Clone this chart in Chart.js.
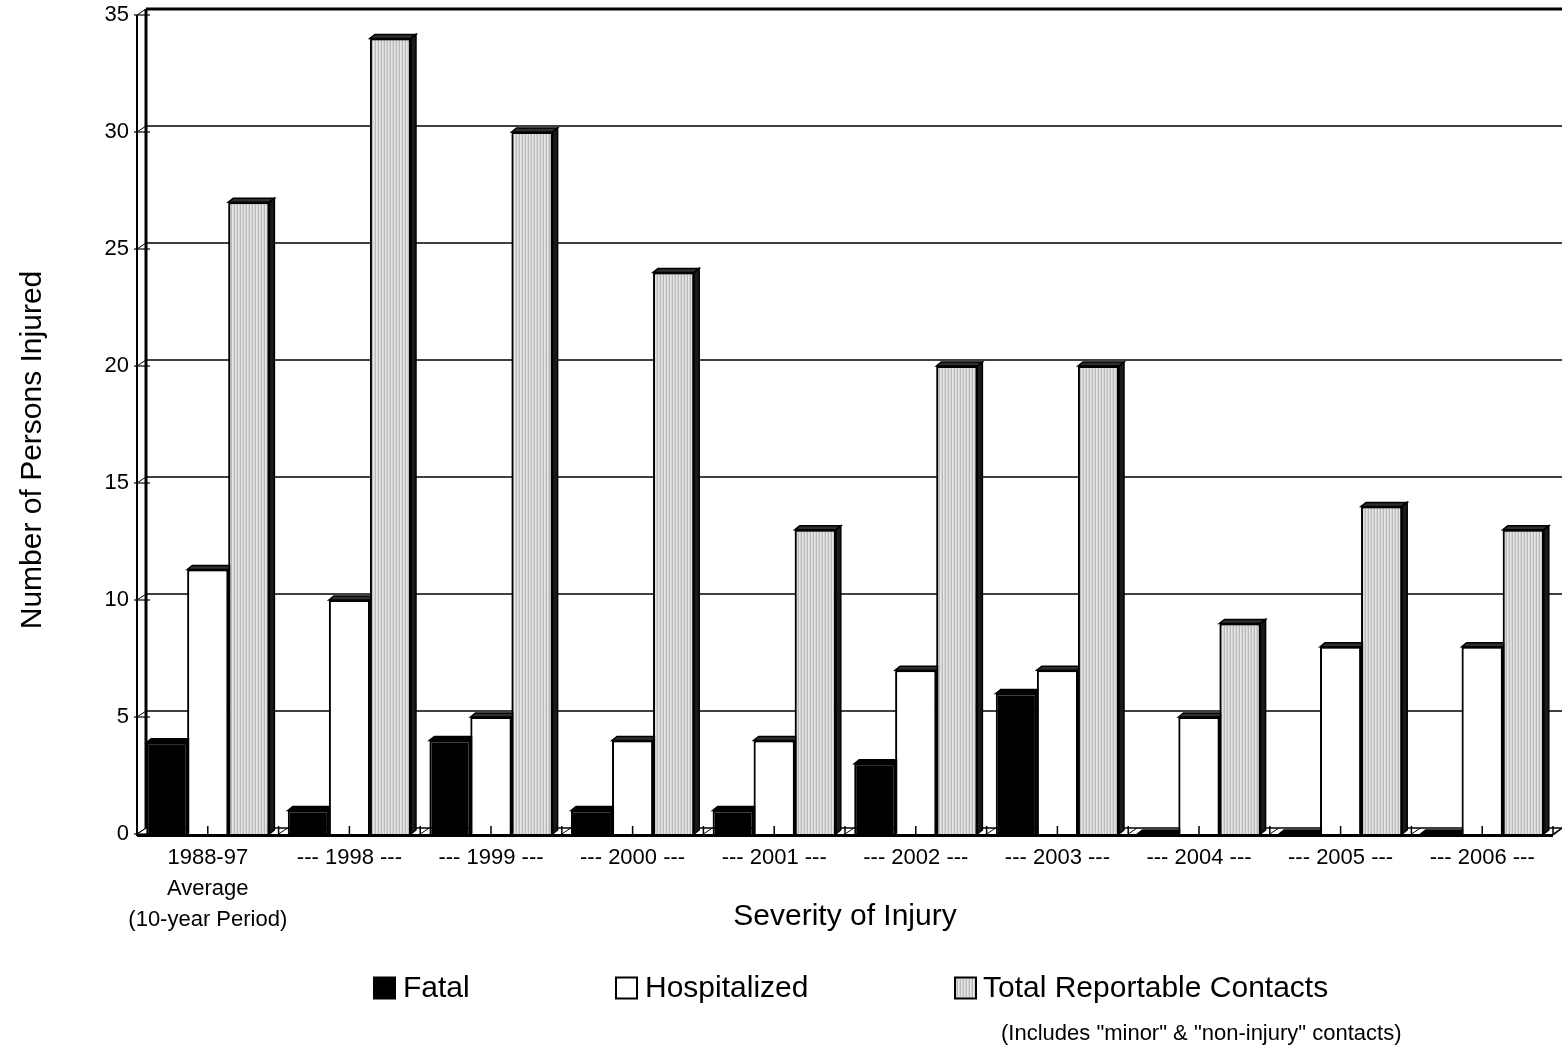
<!DOCTYPE html>
<html>
<head>
<meta charset="utf-8">
<title>Number of Persons Injured by Severity of Injury</title>
<script src="https://cdn.jsdelivr.net/npm/chart.js@4.4.1/dist/chart.umd.min.js"></script>
<style>
  html, body { margin: 0; padding: 0; background: #fff; }
  #wrap { width: 1562px; height: 1049px; position: relative; }
</style>
</head>
<body>
<div id="wrap"><canvas id="chart" width="1562" height="1049"></canvas></div>
<script>
// ---- data ----
const categories = [
  ["1988-97", "Average", "(10-year Period)"],
  "--- 1998 ---", "--- 1999 ---", "--- 2000 ---", "--- 2001 ---",
  "--- 2002 ---", "--- 2003 ---", "--- 2004 ---", "--- 2005 ---", "--- 2006 ---"
];
const fatal        = [3.9, 1, 4, 1, 1, 3, 6, 0, 0, 0];
const hospitalized = [11.3, 10, 5, 4, 4, 7, 7, 5, 8, 8];
const totalContacts = [27, 34, 30, 24, 13, 20, 20, 9, 14, 13];
const yTicks = [0, 5, 10, 15, 20, 25, 30, 35];
const seriesNames = ["Fatal", "Hospitalized", "Total Reportable Contacts"];
const footnote = '(Includes "minor" & "non-injury" contacts)';
const yTitle = "Number of Persons Injured";
const xTitle = "Severity of Injury";

// ---- styling ----
const FONT = "'Liberation Sans', Arial, Helvetica, sans-serif";
const WALL_DX = 9, WALL_DY = 6;   // depth of the back wall
const BAR_DX = 5, BAR_DY = 4;     // depth of each bar

function stripePattern() {
  const c = document.createElement('canvas');
  c.width = 3; c.height = 4;
  const g = c.getContext('2d');
  ['#b9b9b9', '#e6e6e6', '#d5d5d5'].forEach((col, i) => {
    g.fillStyle = col; g.fillRect(i, 0, 1, 4);
  });
  return g.createPattern(c, 'repeat');
}
const stripes = stripePattern();
const fills = ['#000000', '#ffffff', stripes];
const topFills = ['#000000', '#2e2e2e', '#2e2e2e'];
const sideFills = ['#000000', '#1a1a1a', '#1a1a1a'];

function barFaces(ctx, el, di) {
  const p = el.getProps(['x', 'y', 'base', 'width'], true);
  const x0 = p.x - p.width / 2, x1 = p.x + p.width / 2;
  const y = Math.min(p.y, p.base), base = Math.max(p.y, p.base);
  ctx.save();
  ctx.strokeStyle = '#000';
  ctx.lineWidth = 1.5;
  ctx.lineJoin = 'miter';
  // top face
  ctx.beginPath();
  ctx.moveTo(x0, y);
  ctx.lineTo(x0 + BAR_DX, y - BAR_DY);
  ctx.lineTo(x1 + BAR_DX, y - BAR_DY);
  ctx.lineTo(x1, y);
  ctx.closePath();
  ctx.fillStyle = topFills[di];
  ctx.fill(); ctx.stroke();
  // right side face
  if (base > y) {
    ctx.beginPath();
    ctx.moveTo(x1, y);
    ctx.lineTo(x1 + BAR_DX, y - BAR_DY);
    ctx.lineTo(x1 + BAR_DX, base - BAR_DY);
    ctx.lineTo(x1, base);
    ctx.closePath();
    ctx.fillStyle = sideFills[di];
    ctx.fill(); ctx.stroke();
  }
  ctx.restore();
}

function line(ctx, x1, y1, x2, y2, w) {
  ctx.beginPath();
  ctx.lineWidth = w;
  ctx.moveTo(x1, y1);
  ctx.lineTo(x2, y2);
  ctx.stroke();
}

const wallPlugin = {
  id: 'wall',
  beforeDatasetsDraw(chart) {
    const ctx = chart.ctx, a = chart.chartArea, ys = chart.scales.y;
    const W = chart.width;
    ctx.save();
    ctx.strokeStyle = '#000';
    // gridlines on the back wall
    yTicks.forEach(v => {
      const y = ys.getPixelForValue(v) - WALL_DY;
      line(ctx, a.left + WALL_DX, y, W, y, v === yTicks[yTicks.length - 1] ? 3 : 1.4);
    });
    // left wall: front and back edges
    const yTop = ys.getPixelForValue(yTicks[yTicks.length - 1]);
    const yBot = ys.getPixelForValue(0);
    line(ctx, a.left, yTop, a.left, yBot + 2, 2);
    line(ctx, a.left + WALL_DX, yTop - WALL_DY, a.left + WALL_DX, yBot - WALL_DY, 3);
    // depth ticks on the left wall
    yTicks.forEach(v => {
      const y = ys.getPixelForValue(v);
      line(ctx, a.left, y, a.left + WALL_DX, y - WALL_DY, 1);
      line(ctx, a.left - 3, y, a.left + WALL_DX + 4, y, 1.2);
    });
    ctx.restore();
  },
  afterDatasetsDraw(chart) {
    const ctx = chart.ctx, a = chart.chartArea, ys = chart.scales.y, xs = chart.scales.x;
    const metas = [0, 1, 2].map(i => chart.getDatasetMeta(i));
    // 3D faces, each bar's neighbour redrawn on top so hidden faces stay hidden
    for (let j = 0; j < categories.length; j++) {
      for (let i = 0; i < metas.length; i++) {
        barFaces(ctx, metas[i].data[j], i);
        if (i + 1 < metas.length) metas[i + 1].data[j].draw(ctx);
      }
    }
    ctx.save();
    ctx.strokeStyle = '#000';
    const y0 = ys.getPixelForValue(0);
    // floor
    line(ctx, a.left, y0 + 1.5, a.right, y0 + 1.5, 3);
    line(ctx, a.right, y0 + 1, a.right + WALL_DX, y0 - WALL_DY, 1.5);
    const step = (a.right - a.left) / categories.length;
    for (let k = 0; k <= categories.length; k++) {
      const x = a.left + k * step;
      line(ctx, x, y0, x + WALL_DX, y0 - WALL_DY, 1);
      line(ctx, x, y0, x, y0 - 8, 1.5);
    }
    categories.forEach((c, j) => {
      const x = xs.getPixelForValue(j);
      line(ctx, x, y0, x, y0 - 8, 1.5);
    });
    ctx.restore();
  },
  afterDraw(chart) {
    const ctx = chart.ctx, a = chart.chartArea;
    ctx.save();
    ctx.fillStyle = '#000';
    ctx.textBaseline = 'middle';
    // axis titles
    ctx.font = `30px ${FONT}`;
    ctx.textAlign = 'center';
    ctx.fillText(xTitle, (a.left + a.right) / 2, 917);
    ctx.save();
    ctx.translate(33, 450);
    ctx.rotate(-Math.PI / 2);
    ctx.fillText(yTitle, 0, 0);
    ctx.restore();
    // legend
    const items = [
      { box: 374, text: 403 },
      { box: 616, text: 645 },
      { box: 955, text: 983 }
    ];
    const ly = 988, bs = 21;
    ctx.textAlign = 'left';
    items.forEach((it, i) => {
      ctx.fillStyle = fills[i];
      ctx.fillRect(it.box, ly - bs / 2, bs, bs);
      ctx.strokeStyle = '#000';
      ctx.lineWidth = 2;
      ctx.strokeRect(it.box, ly - bs / 2, bs, bs);
      ctx.fillStyle = '#000';
      ctx.font = `30px ${FONT}`;
      ctx.fillText(seriesNames[i], it.text, ly + 1);
    });
    ctx.font = `22px ${FONT}`;
    ctx.fillText(footnote, 1001, 1034);
    ctx.restore();
  }
};

new Chart(document.getElementById('chart'), {
  type: 'bar',
  data: {
    labels: categories,
    datasets: [fatal, hospitalized, totalContacts].map((d, i) => ({
      label: seriesNames[i],
      data: d,
      backgroundColor: fills[i],
      borderColor: '#000',
      borderWidth: 2,
      categoryPercentage: 0.87,
      barPercentage: 1.0
    }))
  },
  options: {
    responsive: false,
    animation: false,
    devicePixelRatio: 1,
    layout: { padding: { left: 0, top: 15, right: 9, bottom: 0 } },
    plugins: { legend: { display: false }, tooltip: { enabled: false }, title: { display: false } },
    scales: {
      x: {
        grid: { display: false, drawTicks: false },
        border: { display: false },
        ticks: {
          color: '#000',
          font: { family: FONT, size: 22, lineHeight: 1.4 },
          padding: 9,
          maxRotation: 0,
          autoSkip: false
        },
        afterFit(scale) { scale.height = 215; scale.paddingLeft = 0; scale.paddingRight = 0; }
      },
      y: {
        min: 0,
        max: 35,
        grid: { display: false, drawTicks: false },
        border: { display: false },
        ticks: {
          stepSize: 5,
          color: '#000',
          font: { family: FONT, size: 22 },
          padding: 8
        },
        afterFit(scale) { scale.width = 137; scale.paddingTop = 0; scale.paddingBottom = 0; }
      }
    }
  },
  plugins: [wallPlugin]
});
</script>
</body>
</html>
